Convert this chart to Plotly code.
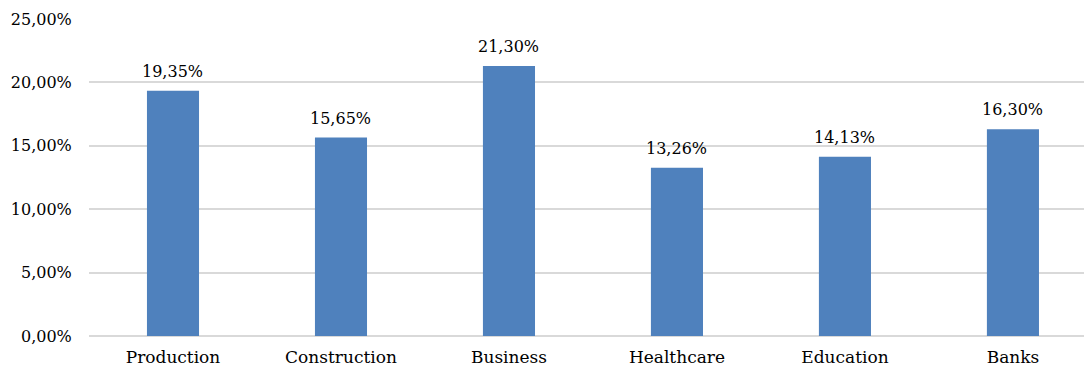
import plotly.graph_objects as go

categories = ["Production", "Construction", "Business", "Healthcare", "Education", "Banks"]
values = [19.35, 15.65, 21.30, 13.26, 14.13, 16.30]
y_ticks = [0, 5, 10, 15, 20, 25]

def fmt(v):
    return f"{v:.2f}".replace(".", ",") + "%"

FONT = "DejaVu Serif"

fig = go.Figure()
fig.add_trace(go.Bar(
    x=list(range(len(categories))),
    y=values,
    width=0.31,
    marker=dict(color="#4F81BD", line=dict(width=0)),
    cliponaxis=False,
))

for i, v in enumerate(values):
    fig.add_annotation(
        x=i, y=v, text=fmt(v), showarrow=False,
        yanchor="bottom", yshift=8,
        font=dict(family=FONT, size=16, color="#000000"),
    )

fig.update_layout(
    width=1084, height=367,
    margin=dict(l=89, r=0, t=19, b=31),
    paper_bgcolor="white", plot_bgcolor="white",
    showlegend=False,
    font=dict(family=FONT, size=16, color="#000000"),
    xaxis=dict(
        range=[-0.5, 5.423],
        tickmode="array",
        tickvals=list(range(len(categories))),
        ticktext=categories,
        showgrid=False, zeroline=False, showline=False,
        ticks="outside", ticklen=6, tickcolor="rgba(0,0,0,0)",
        tickfont=dict(family=FONT, size=17),
        automargin=False,
    ),
    yaxis=dict(
        range=[0, 25],
        tickmode="array",
        tickvals=y_ticks,
        ticktext=[fmt(t) for t in y_ticks],
        showgrid=True, gridcolor="#D9D9D9", gridwidth=1.5,
        zeroline=True, zerolinecolor="#D9D9D9", zerolinewidth=1.5,
        showline=False,
        ticks="outside", ticklen=13, tickcolor="rgba(0,0,0,0)",
        tickfont=dict(family=FONT, size=16),
        automargin=False,
    ),
)

fig.write_html("out.html")
